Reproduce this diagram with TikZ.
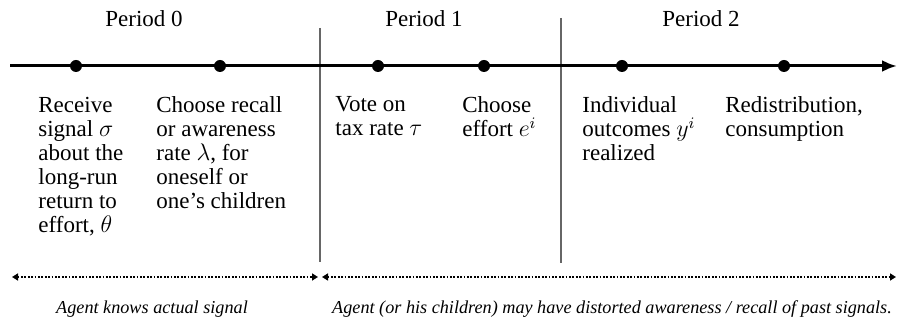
\documentclass[tikz,border=0pt]{standalone}
\usepackage{fontspec}
\setmainfont{Liberation Serif}
\usetikzlibrary{arrows.meta}
\usetikzlibrary{positioning}
\tikzstyle{dot} = [circle, fill=black, minimum size=6pt, inner sep=0pt]
\tikzstyle{event} = [align=left, inner sep=0pt, font=\fontsize{11.5}{12}\selectfont]
\tikzstyle{period} = [inner sep=0pt, anchor=base, font=\fontsize{11.5}{12}\selectfont]
\tikzstyle{note} = [inner sep=0pt, anchor=base, font=\fontsize{9.1}{11}\selectfont\itshape]
\tikzstyle{timeline} = [line width=1.5pt, -{Latex[length=7.5pt,width=6pt]}]
\tikzstyle{divider} = [line width=0.8pt, black!60]
\tikzstyle{spanarrow} = [line width=1pt, dash pattern={on 0.9pt off 0.8pt}, {Triangle[length=3pt,width=3.5pt]}-{Triangle[length=3pt,width=3.5pt]}]

\begin{document}
\begin{tikzpicture}[x=0.5pt, y=-0.5pt]
    \useasboundingbox (0,0) rectangle (900,325);

    % period borders
    \coordinate (cut1top) at (320,28);
    \coordinate (cut1bot) at (320,262);
    \coordinate (cut2top) at (561,18);
    \coordinate (cut2bot) at (561,263);
    \draw [divider] (cut1top) -- (cut1bot);
    \draw [divider] (cut2top) -- (cut2bot);

    % time line
    \coordinate (start) at (10,66);
    \coordinate (end) at (897,66);
    \draw [timeline] (start) -- (end);

    \node (p0) [period] at (144,27) {Period 0};
    \node (p1) [period] at (424,27) {Period 1};
    \node (p2) [period] at (701,27) {Period 2};

    \node (d1) [dot] at (76,66) {};
    \node (d2) [dot] at (220,66) {};
    \node (d3) [dot] at (378,66) {};
    \node (d4) [dot] at (484,66) {};
    \node (d5) [dot] at (622,66) {};
    \node (d6) [dot] at (784,66) {};

    \node (ev1) [event, below=12pt of d1, anchor=north west, xshift=-19pt] {Receive\\signal $\sigma$\\about the\\long-run\\return to\\effort, $\theta$};
    \node (ev2) [event, below=12pt of d2, anchor=north west, xshift=-32pt] {Choose recall\\or awareness\\rate $\lambda$, for\\oneself or\\one’s children};
    \node (ev3) [event, below=12pt of d3, anchor=north west, xshift=-21.5pt] {Vote on\\tax rate $\tau$};
    \node (ev4) [event, below=12pt of d4, anchor=north west, xshift=-11pt] {Choose\\effort $e^i$};
    \node (ev5) [event, below=12pt of d5, anchor=north west, xshift=-20pt] {Individual\\outcomes $y^i$\\realized};
    \node (ev6) [event, below=12pt of d6, anchor=north west, xshift=-29.5pt] {Redistribution,\\consumption};

    % knowledge spans
    \coordinate (known0) at (12,277);
    \coordinate (known1) at (318,277);
    \coordinate (recall0) at (322,277);
    \coordinate (recall1) at (896,277);
    \draw [spanarrow] (known0) -- (known1);
    \draw [spanarrow] (recall0) -- (recall1);

    \node (know) [note] at (152,314) {Agent knows actual signal};
    \node (distort) [note] at (612,314) {Agent (or his children) may have distorted awareness / recall of past signals.};

\end{tikzpicture}
\end{document}
